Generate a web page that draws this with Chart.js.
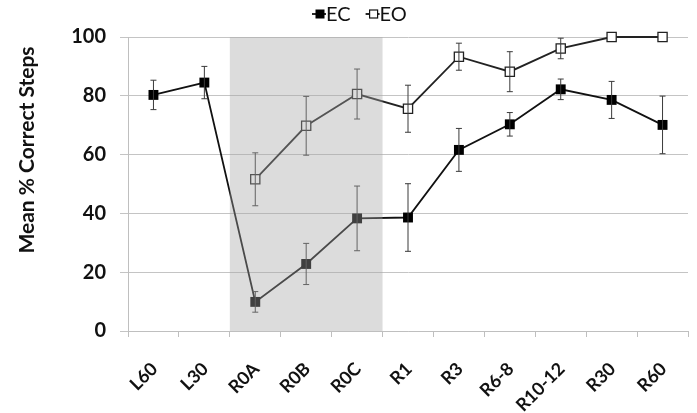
<!DOCTYPE html>
<html><head><meta charset="utf-8">
<script src="https://cdn.jsdelivr.net/npm/chart.js@4"></script>
<style>html,body{margin:0;padding:0;background:#fff}#wrap{width:697px;height:413px}</style>
</head><body><div id="wrap"><canvas id="c" width="697" height="413"></canvas></div>
<script>
const categories = ['L60','L30','R0A','R0B','R0C','R1','R3','R6-8','R10-12','R30','R60'];
const ecValues = [80.3, 84.5, 9.9, 22.8, 38.3, 38.6, 61.6, 70.3, 82.2, 78.6, 70.1];
const ecErrors = [5, 5.5, 3.5, 7, 11, 11.5, 7.3, 4, 3.5, 6.3, 9.8];
const eoValues = [null, null, 51.6, 69.8, 80.6, 75.6, 93.3, 88.2, 96.1, 100, 100];
const eoErrors = [null, null, 9, 10, 8.5, 8, 4.6, 6.8, 3.5, 0, 0];
const yTicks = [0, 20, 40, 60, 80, 100];
const shadeFrom = 'R0A', shadeTo = 'R0C';
const yTitle = 'Mean % Correct Steps';

const FONT = 'Lato, "Open Sans", sans-serif';

const errPlugin = {
  id: 'errbars',
  afterDatasetsDraw(chart) {
    const {ctx, scales:{x, y}} = chart;
    chart.data.datasets.forEach(ds => {
      const errs = ds.errors;
      ds.data.forEach((v, i) => {
        if (v == null || !errs[i]) return;
        const px = x.getPixelForValue(i);
        const top = y.getPixelForValue(v + errs[i]);
        const bot = y.getPixelForValue(v - errs[i]);
        ctx.save();
        ctx.strokeStyle = '#3a3a3a';
        ctx.lineWidth = 1;
        ctx.beginPath();
        ctx.moveTo(px, top); ctx.lineTo(px, bot);
        ctx.moveTo(px - 3, top); ctx.lineTo(px + 3, top);
        ctx.moveTo(px - 3, bot); ctx.lineTo(px + 3, bot);
        ctx.stroke();
        ctx.restore();
      });
    });
    const i0 = categories.indexOf(shadeFrom), i1 = categories.indexOf(shadeTo);
    const half = (x.getPixelForValue(1) - x.getPixelForValue(0)) / 2;
    const l = x.getPixelForValue(i0) - half, r = x.getPixelForValue(i1) + half;
    const t = y.getPixelForValue(100), b = y.getPixelForValue(0);
    ctx.save();
    ctx.fillStyle = 'rgba(165,165,165,0.39)';
    ctx.fillRect(l, t, r - l, b - t);
    ctx.restore();
  },
  afterDraw(chart) {
    const {ctx, scales:{x, y}} = chart;
    // x labels (rotated 45°, anchored at the category centre)
    ctx.save();
    ctx.font = 'bold 18px ' + FONT;
    ctx.fillStyle = '#111';
    ctx.textAlign = 'right';
    ctx.textBaseline = 'middle';
    const baseY = y.getPixelForValue(0) + 35;
    x.getLabels().forEach((lab, i) => {
      ctx.save();
      ctx.translate(x.getPixelForValue(i) + 1, baseY);
      ctx.rotate(-Math.PI / 4);
      ctx.fillText(lab, 0, 0);
      ctx.restore();
    });
    ctx.restore();
    // y title
    ctx.save();
    ctx.translate(27, 150);
    ctx.rotate(-Math.PI / 2);
    ctx.font = 'bold 21px ' + FONT;
    ctx.fillStyle = '#111';
    ctx.textAlign = 'center';
    ctx.textBaseline = 'middle';
    ctx.fillText(yTitle, 0, 0);
    ctx.restore();
    // legend
    ctx.save();
    ctx.font = '20px ' + FONT;
    ctx.textBaseline = 'middle';
    const yL = 14;
    let xL = 312;
    chart.data.datasets.forEach(ds => {
      ctx.strokeStyle = '#111';
      ctx.lineWidth = 1.8;
      ctx.beginPath(); ctx.moveTo(xL, yL); ctx.lineTo(xL + 14, yL); ctx.stroke();
      const s = ds.filled ? 9 : 8;
      if (ds.filled) { ctx.fillStyle = '#000'; ctx.fillRect(xL + 8 - s/2, yL - s/2, s, s); }
      else { ctx.fillStyle = '#fff'; ctx.fillRect(xL + 8 - s/2, yL - s/2, s, s); ctx.lineWidth = 1.2; ctx.strokeRect(xL + 8 - s/2, yL - s/2, s, s); }
      ctx.fillStyle = '#111';
      ctx.textAlign = 'left';
      ctx.fillText(ds.label, xL + 14, yL + 1);
      xL += 14 + ctx.measureText(ds.label).width + 15;
    });
    ctx.restore();
  }
};

new Chart(document.getElementById('c'), {
  type: 'line',
  data: {
    labels: categories,
    datasets: [
      { label: 'EC', data: ecValues, errors: ecErrors, filled: true, clip: false,
        borderColor: '#111', borderWidth: 1.8, backgroundColor: '#000',
        pointStyle: 'rect', pointRadius: 7, pointBorderColor: '#000', pointBackgroundColor: '#000', pointBorderWidth: 0,
        tension: 0 },
      { label: 'EO', data: eoValues, errors: eoErrors, filled: false, clip: false,
        borderColor: '#222', borderWidth: 1.8, backgroundColor: '#fff',
        pointStyle: 'rect', pointRadius: 6.5, pointBorderColor: '#222', pointBackgroundColor: '#fff', pointBorderWidth: 1.3,
        tension: 0 }
    ]
  },
  options: {
    responsive: false,
    animation: false,
    devicePixelRatio: 1,
    layout: { padding: { top: 37, right: 9, left: 0, bottom: 0 } },
    plugins: { legend: { display: false }, tooltip: { enabled: false } },
    scales: {
      x: {
        offset: true,
        grid: { display: true, drawOnChartArea: false, offset: true, tickLength: 6, color: '#bfbfbf' },
        border: { display: true, color: '#bfbfbf' },
        ticks: { display: false },
        afterFit(s) { s.height = 82; }
      },
      y: {
        min: 0, max: 100,
        afterBuildTicks(s) { s.ticks = yTicks.map(v => ({ value: v })); },
        grid: { color: '#c4c4c4', tickLength: 8, lineWidth: 1 },
        border: { display: true, color: '#bfbfbf' },
        ticks: { color: '#111', font: { family: FONT, size: 20, weight: 'bold' }, padding: 14 },
        afterFit(s) { s.width = 128; }
      }
    }
  },
  plugins: [errPlugin]
});
</script></body></html>
